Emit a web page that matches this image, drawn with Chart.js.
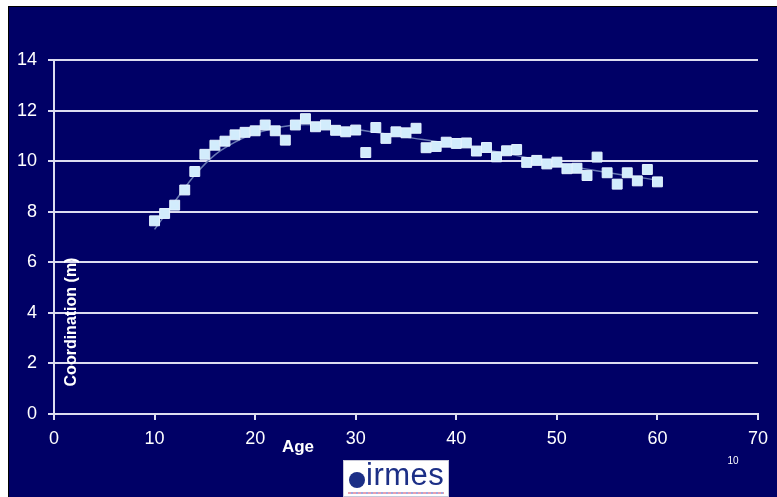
<!DOCTYPE html>
<html>
<head>
  <title>Coordination by Age</title>
  <script src="https://cdn.jsdelivr.net/npm/chart.js"></script>
  <style>
    body { margin: 0; background: #fff; overflow: hidden; font-family: "Liberation Sans", Arial, sans-serif; }
    #wrap { position: relative; width: 777px; height: 497px; }
    #logo {
      position: absolute; left: 343px; top: 460px; width: 106px; height: 37px;
      background: #fff; box-sizing: border-box; border: 1px solid #c8c8d8;
    }
    #logo .dot {
      position: absolute; left: 5px; top: 11px; width: 16px; height: 16px;
      border-radius: 50%; background: #1c2f86;
    }
    #logo .txt {
      position: absolute; left: 22px; top: -4px; font-size: 31px; color: #1c2f86;
      letter-spacing: 0.5px;
    }
    #logo .stripe {
      position: absolute; left: 4px; right: 4px; bottom: 2px; height: 2px;
      background: repeating-linear-gradient(90deg, #e8a0b0 0 3px, #a0a8e0 3px 5px);
    }
  </style>
</head>
<body>
  <div id="wrap">
    <canvas id="coordChart" width="777" height="497"></canvas>
    <div id="logo"><div class="dot"></div><div class="txt">irmes</div><div class="stripe"></div></div>
  </div>

  <script>
    const ages = [10, 11, 12, 13, 14, 15, 16, 17, 18, 19,
                  20, 21, 22, 23, 24, 25, 26, 27, 28, 29,
                  30, 31, 32, 33, 34, 35, 36, 37, 38, 39,
                  40, 41, 42, 43, 44, 45, 46, 47, 48, 49,
                  50, 51, 52, 53, 54, 55, 56, 57, 58, 59, 60];
    const coordination = [7.64, 7.93, 8.26, 8.86, 9.59, 10.27, 10.63, 10.79, 11.04, 11.14,
                          11.20, 11.43, 11.20, 10.83, 11.43, 11.68, 11.36, 11.43, 11.22, 11.16,
                          11.23, 10.34, 11.33, 10.90, 11.16, 11.12, 11.30, 10.53, 10.58, 10.75,
                          10.70, 10.72, 10.40, 10.54, 10.17, 10.41, 10.46, 9.95, 10.03, 9.89,
                          9.96, 9.70, 9.72, 9.43, 10.16, 9.54, 9.09, 9.54, 9.22, 9.67, 9.18];

    // trend line, read at a few ages
    const trendAges = [10, 12, 14, 16, 18, 20, 25, 30, 35, 40, 45, 50, 55, 60];
    const trendValues = [7.3, 8.4, 9.45, 10.25, 10.75, 11.1, 11.45, 11.25, 10.95, 10.65, 10.3, 9.9, 9.55, 9.25];

    const xTitle = 'Age';
    const yTitle = 'Coordination (m)';
    const pageNote = '10';

    const navy = '#000066';
    const gridColor = '#dcdcf0';

    const frame = {
      id: 'frame',
      beforeDraw(chart) {
        const c = chart.ctx;
        c.save();
        c.fillStyle = '#ffffff';
        c.fillRect(0, 0, chart.width, chart.height);
        c.fillStyle = '#000000';
        c.fillRect(8, 6, chart.width - 8, chart.height - 6);
        c.fillStyle = navy;
        c.fillRect(9, 7, chart.width - 9, chart.height - 7);
        c.restore();
      },
      afterDraw(chart) {
        const c = chart.ctx;
        c.save();
        c.fillStyle = '#ffffff';
        c.textAlign = 'center';
        c.textBaseline = 'middle';
        c.font = 'bold 17px "Liberation Sans", Arial, sans-serif';
        c.fillText(xTitle, 298, 447);
        c.font = '10px "Liberation Sans", Arial, sans-serif';
        c.fillText(pageNote, 733, 461);
        c.translate(72, 322);
        c.rotate(-Math.PI / 2);
        c.font = 'bold 16px "Liberation Sans", Arial, sans-serif';
        c.fillText(yTitle, 0, 0);
        c.restore();
      }
    };

    const ctx = document.getElementById('coordChart').getContext('2d');
    new Chart(ctx, {
      type: 'scatter',
      data: {
        datasets: [
          {
            label: 'Coordination',
            data: ages.map((a, i) => ({ x: a, y: coordination[i] })),
            pointStyle: 'rect',
            pointRadius: 7,
            pointBackgroundColor: '#d2ecfc',
            pointBorderColor: '#e6f4ff',
            pointBorderWidth: 1,
            order: 1
          },
          {
            type: 'line',
            label: 'Trend',
            data: trendAges.map((a, i) => ({ x: a, y: trendValues[i] })),
            borderColor: '#6a7ab4',
            borderWidth: 1.5,
            pointRadius: 0,
            tension: 0.4,
            cubicInterpolationMode: 'monotone',
            fill: false,
            order: 2
          }
        ]
      },
      options: {
        responsive: false,
        animation: false,
        layout: { padding: { left: 0, top: 60, right: 19, bottom: 0 } },
        plugins: {
          legend: { display: false },
          tooltip: { enabled: false }
        },
        scales: {
          x: {
            type: 'linear',
            min: 0,
            max: 70,
            afterFit: s => { s.height = 83; },
            ticks: {
              stepSize: 10,
              color: '#ffffff',
              padding: 8,
              font: { family: '"Liberation Sans", Arial, sans-serif', size: 18 }
            },
            grid: {
              drawOnChartArea: false,
              drawTicks: true,
              tickLength: 6,
              color: gridColor,
              lineWidth: 2
            },
            border: { color: gridColor, width: 2 }
          },
          y: {
            min: 0,
            max: 14,
            afterFit: s => { s.width = 54; },
            ticks: {
              stepSize: 2,
              color: '#ffffff',
              padding: 11,
              font: { family: '"Liberation Sans", Arial, sans-serif', size: 18 }
            },
            grid: {
              color: gridColor,
              lineWidth: 2,
              tickLength: 6
            },
            border: { color: gridColor, width: 2 }
          }
        }
      },
      plugins: [frame]
    });
  </script>
</body>
</html>
